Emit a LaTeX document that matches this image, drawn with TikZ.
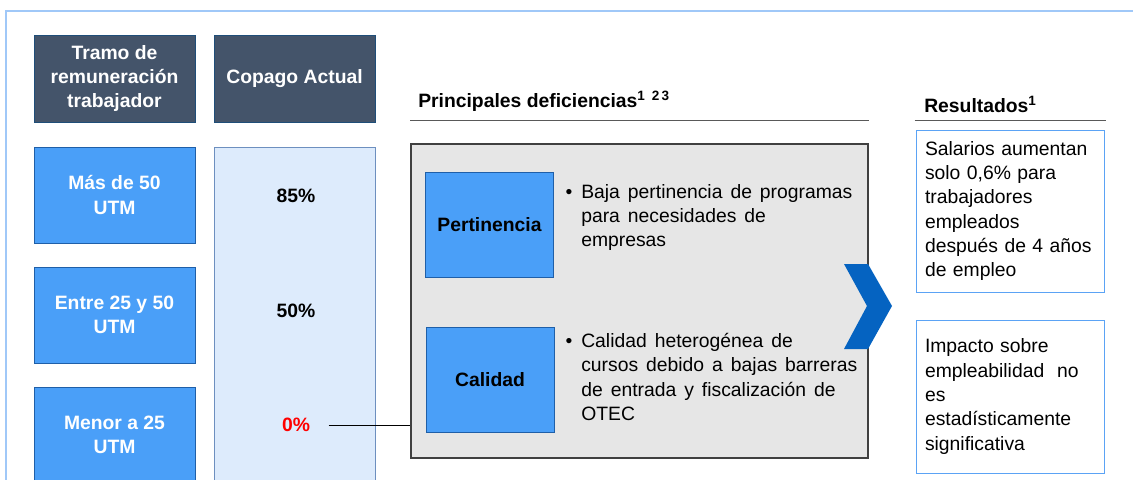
\documentclass[tikz,border=0pt]{standalone}
\usepackage{fontspec}
\setmainfont{Liberation Sans}
\usetikzlibrary{positioning,calc}
\newdimen\px \px=0.75pt
\newcommand\widespaces{\spaceskip 6pt\relax}
\definecolor{hdrfill}{HTML}{44546A}
\definecolor{hdrline}{HTML}{1F4E79}
\definecolor{rowfill}{HTML}{4A9FF8}
\definecolor{rowline}{HTML}{1F5FA8}
\definecolor{colfill}{HTML}{DDEBFC}
\definecolor{colline}{HTML}{6D8FBF}
\definecolor{deffill}{HTML}{E6E6E6}
\definecolor{defline}{HTML}{404040}
\definecolor{rulecol}{HTML}{595959}
\definecolor{chevcol}{HTML}{0563C1}
\definecolor{resline}{HTML}{5BA3F5}
\definecolor{framecol}{HTML}{A0C8F8}
\definecolor{pctred}{HTML}{FF0000}

\begin{document}
\begin{tikzpicture}[x=0.75pt, y=-0.75pt,
    every node/.style={font=\fontsize{14.5}{18.2}\selectfont},
    box/.style={rectangle, inner sep=0pt, align=center},
    hdrbox/.style={box, fill=hdrfill, draw=hdrline, line width=1\px, minimum width=161\px, minimum height=87\px, text=white, font=\fontsize{14.5}{18.2}\selectfont\bfseries},
    rowbox/.style={box, fill=rowfill, draw=rowline, line width=1\px, minimum width=161\px, minimum height=96\px, text=white, font=\fontsize{14.5}{18.2}\selectfont\bfseries},
    colbox/.style={box, fill=colfill, draw=colline, line width=1\px, minimum width=161\px, minimum height=336\px},
    pct/.style={font=\fontsize{14.5}{18.2}\selectfont\bfseries},
    defbox/.style={box, fill=deffill, draw=defline, line width=1.5\px, minimum width=457\px, minimum height=314\px},
    catbox/.style={box, fill=rowfill, draw=rowline, line width=1\px, minimum width=128\px, minimum height=105\px, font=\fontsize{14.5}{18.2}\selectfont\bfseries},
    itemtext/.style={inner sep=0pt, align=left, anchor=north west, font=\fontsize{14.5}{18.2}\selectfont\widespaces},
    resbox/.style={rectangle, draw=resline, line width=1\px, minimum width=188\px, text width=170\px, inner xsep=9\px, inner ysep=0pt, align=left},
    headtext/.style={inner sep=0pt, anchor=base west, font=\fontsize{14.5}{18.2}\selectfont\bfseries},
    hdrrule/.style={draw=rulecol, line width=1.5\px}
    ]
    \useasboundingbox (0,0) rectangle (1133,479);
    \clip (0,0) rectangle (1133,479);

    %Frame
    \draw[framecol, line width=1.5\px] (6,480) -- (6,11) -- (1134,11);

    %Left columns
    \node[hdrbox] (tramo)  at (114.5,78.5) {Tramo de\\remuneración\\trabajador};
    \node[hdrbox] (copago) at (294.5,78.5) {Copago Actual};
    \node[rowbox] (mas50)  at (114.5,195)  {Más de 50\\UTM};
    \node[rowbox] (entre)  at (114.5,315)  {Entre 25 y 50\\UTM};
    \node[rowbox] (menor)  at (114.5,435)  {Menor a 25\\UTM};
    \node[colbox] (column) at (294.5,315)  {};
    \node[pct]             (pct85) at (296,196) {85\%};
    \node[pct]             (pct50) at (296,311) {50\%};
    \node[pct, text=pctred] (pct0) at (296,425) {0\%};

    %Deficiencias
    \node[headtext] (defhead) at (418,107) {Principales\ deficiencias\textsuperscript{1\,\,\,2\,3}};
    \node[defbox]  (deficits)    at (639.5,301) {};
    \node[catbox]  (pertinencia) at (489.5,224.5) {Pertinencia};
    \node[catbox]  (calidad)     at (490,380)     {Calidad};
    \node[itemtext] (perttext) at (581,184) {\llap{\textbullet\hspace{9\px}}Baja pertinencia de programas\\para necesidades de\\empresas};
    \node[itemtext] (caltext)  at (581,333) {\llap{\textbullet\hspace{9\px}}Calidad heterogénea de\\cursos debido a bajas barreras\\de entrada y fiscalización de\\OTEC};
    \fill[chevcol] (844,264) -- (868,264) -- (892,306) -- (868,349) -- (844,349) -- (867,306) -- cycle;

    %Resultados
    \node[headtext] (reshead) at (924,112) {Resultados\textsuperscript{1}};
    \node[resbox, minimum height=162\px] (salarios) at (1010,211) {Salarios aumentan\\solo 0,6\% para\\trabajadores\\empleados\\después de 4 años\\de empleo};
    \node[resbox, minimum height=153\px] (impacto)  at (1010,396.5) {Impacto sobre\\empleabilidad\ \ no\\es\\estadísticamente\\significativa};

    %Lines
    \draw[hdrrule] ([yshift=23\px]deficits.north west) -- ([yshift=23\px]deficits.north east);
    \draw[hdrrule] ([yshift=9\px,xshift=-1\px]salarios.north west) -- ([yshift=9\px,xshift=1\px]salarios.north east);
    \draw[black, line width=1\px] ([xshift=14\px]pct0.east) -- (pct0.east -| deficits.west);
\end{tikzpicture}
\end{document}
